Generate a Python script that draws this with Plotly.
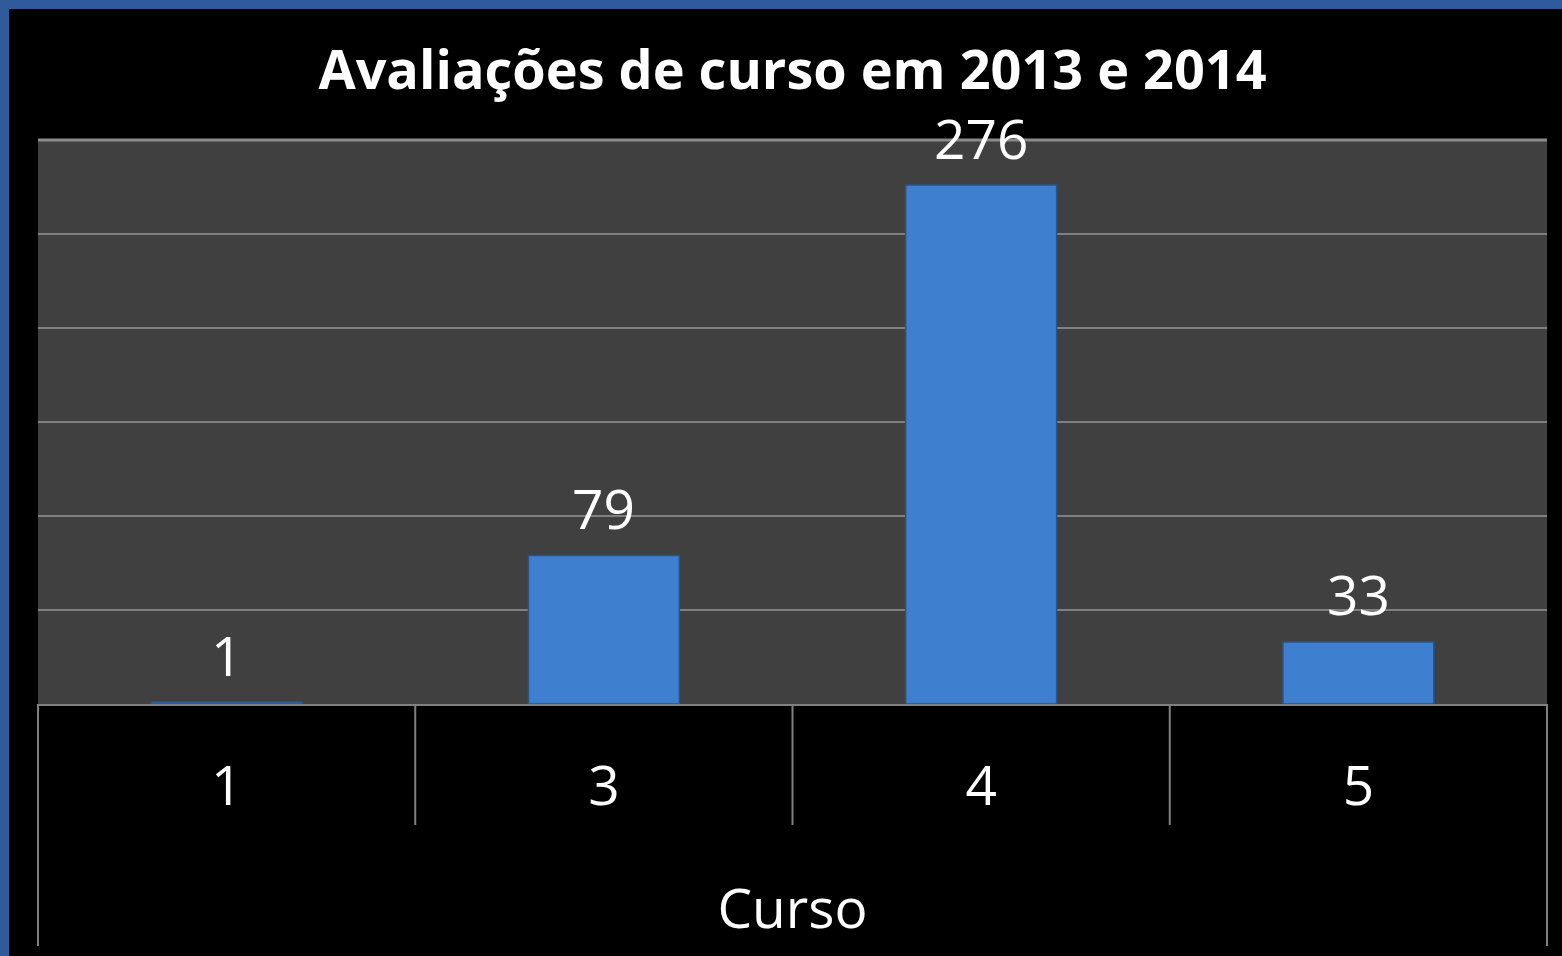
import plotly.graph_objects as go

categories = ["1", "3", "4", "5"]
values = [1, 79, 276, 33]
y_ticks = [0, 50, 100, 150, 200, 250, 300]

W, H = 1562, 956
ML, MR, MT, MB = 38, 15, 140, 252
PW, PH = W - ML - MR, H - MT - MB

def px_x(px):
    return (px - ML) / PW

def px_y(py):
    return (H - MB - py) / PH

fig = go.Figure()
fig.add_trace(go.Bar(
    x=categories, y=values,
    marker=dict(color="#3f7fd0", line=dict(color="#2a5488", width=1.5)),
    showlegend=False, hoverinfo="x+y",
))

for i, v in enumerate(values):
    fig.add_annotation(x=i, y=v, xref="x", yref="y", text=str(v), showarrow=False,
                       yanchor="middle", yshift=48,
                       font=dict(family="Open Sans", size=55, color="white"))

shapes = []
# blue frame (top & left)
shapes.append(dict(type="rect", xref="paper", yref="paper",
                   x0=px_x(0), x1=px_x(W), y0=px_y(9), y1=px_y(0),
                   fillcolor="#2f5b9b", line=dict(width=0), layer="below"))
shapes.append(dict(type="rect", xref="paper", yref="paper",
                   x0=px_x(0), x1=px_x(9), y0=px_y(H), y1=px_y(0),
                   fillcolor="#2f5b9b", line=dict(width=0), layer="below"))
# top gridline
shapes.append(dict(type="line", xref="paper", yref="paper",
                   x0=0, x1=1, y0=1, y1=1,
                   line=dict(color="#8a8a8a", width=3), layer="below"))
# outer divider lines (full height below axis)
for xp in (0, 1):
    shapes.append(dict(type="line", xref="paper", yref="paper",
                       x0=xp, x1=xp, y0=0, y1=px_y(946),
                       line=dict(color="#808080", width=2)))
# inner category divider lines below axis
n = len(categories)
for i in range(1, n):
    xb = i - 0.5
    shapes.append(dict(type="line", xref="x", yref="paper",
                       x0=xb, x1=xb, y0=0, y1=px_y(825),
                       line=dict(color="#808080", width=2)))

fig.update_layout(
    width=W, height=H,
    margin=dict(l=ML, r=MR, t=MT, b=MB),
    paper_bgcolor="black", plot_bgcolor="#404040",
    bargap=0.6,
    title=dict(text="<b>Avaliações de curso em 2013 e 2014</b>",
               font=dict(family="Open Sans", size=54, color="white"),
               x=792.5 / W, xanchor="center",
               y=1 - 70 / H, yanchor="middle"),
    shapes=shapes,
    xaxis=dict(
        type="category", range=[-0.5, n - 0.5],
        showgrid=False, showline=True, linecolor="#808080", linewidth=2,
        ticks="outside", ticklen=33, tickcolor="rgba(0,0,0,0)",
        tickfont=dict(family="Open Sans", size=55, color="white"),
        title=dict(text="Curso", font=dict(family="Open Sans", size=55, color="white"),
                   standoff=69),
    ),
    yaxis=dict(
        range=[0, 300], tickvals=y_ticks, showticklabels=False,
        showgrid=True, gridcolor="#808080", gridwidth=2,
        zeroline=False, showline=False, ticks="",
    ),
)

fig.write_html("out.html", config={"displayModeBar": False},
               post_script="document.body.style.margin='0';document.body.style.padding='0';")
